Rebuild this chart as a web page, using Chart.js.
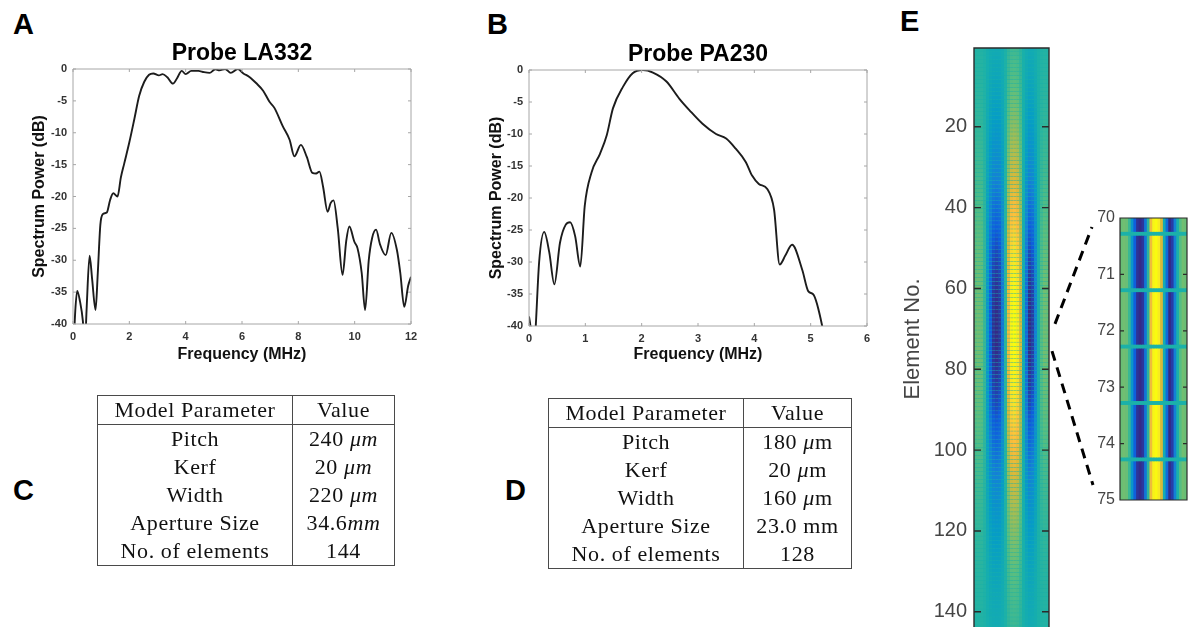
<!DOCTYPE html>
<html>
<head>
<meta charset="utf-8">
<title>Probe spectra and element maps</title>
<script src="https://cdn.jsdelivr.net/npm/chart.js@4.4.1/dist/chart.umd.min.js"></script>
<style>
  html, body { margin: 0; padding: 0; background: #fff; }
  body { position: relative; width: 1194px; height: 627px; overflow: hidden; font-family: "Liberation Sans", Arial, sans-serif; }
  canvas { position: absolute; }
  .tag { position: absolute; font: bold 29px "Liberation Sans", Arial, sans-serif; line-height: 1; color: #000; }
  table.params { position: absolute; border-collapse: collapse; font-family: "Liberation Serif", "Times New Roman", serif; font-size: 22px; letter-spacing: 0.6px; color: #111; }
  table.params td { text-align: center; padding: 0; height: 28px; line-height: 28px; white-space: nowrap; }
  table.params { border: 1px solid #4a4a4a; }
  table.params td:first-child { border-right: 1px solid #4a4a4a; }
  table.params tr.head td { border-bottom: 1px solid #4a4a4a; }
</style>
</head>
<body>

<div class="tag" style="left:13px; top:10px;">A</div>
<div class="tag" style="left:487px; top:10px;">B</div>
<div class="tag" style="left:13px; top:476px;">C</div>
<div class="tag" style="left:505px; top:476px;">D</div>
<div class="tag" style="left:900px; top:7px;">E</div>

<canvas id="spectrumLA" width="430" height="335" style="left:0; top:30px;"></canvas>
<canvas id="spectrumPA" width="430" height="335" style="left:460px; top:30px;"></canvas>
<canvas id="elementMap" width="175" height="660" style="left:890px; top:0;"></canvas>
<canvas id="elementZoom" width="114" height="330" style="left:1080px; top:190px;"></canvas>
<canvas id="links" width="1194" height="627" style="left:0; top:0; pointer-events:none;"></canvas>

<table class="params" id="tableLA" style="left:97px; top:395px; width:298px;"></table>
<table class="params" id="tablePA" style="left:548px; top:398px; width:304px;"></table>

<script>
// Probe LA332 spectrum
const freqLA332 = [0.00, 0.08, 0.15, 0.25, 0.35, 0.42, 0.48, 0.59, 0.68, 0.80, 0.88, 0.97, 1.05, 1.20, 1.32, 1.43, 1.58, 1.70, 1.82, 2.00,
  2.18, 2.35, 2.53, 2.70, 2.85, 3.05, 3.18, 3.35, 3.55, 3.70, 3.86, 4.00, 4.20, 4.45, 4.65, 4.85, 5.05, 5.20, 5.40, 5.60,
  5.85, 6.05, 6.25, 6.50, 6.75, 6.97, 7.15, 7.45, 7.69, 7.86, 8.09, 8.30, 8.50, 8.63, 8.75, 8.88, 9.04, 9.15, 9.25, 9.40,
  9.57, 9.70, 9.81, 9.99, 10.10, 10.25, 10.37, 10.50, 10.62, 10.76, 10.90, 11.10, 11.30, 11.50, 11.62, 11.76, 11.90, 12.00];
const powerLA332 = [-46, -38, -34.8, -36.5, -39.5, -44, -38, -29.3, -33, -37.8, -32, -24.5, -22.8, -22.5, -20.5, -19.5, -20, -17, -14.8, -11.5,
  -7.8, -4.2, -2, -0.9, -0.7, -1, -0.8, -1.3, -2.3, -1.4, -0.3, -0.8, -0.3, -0.3, -0.5, -0.6, -0.05, -0.2, 0, -0.6,
  0, -0.7, -1.2, -2.2, -3.4, -5.1, -6.1, -9, -11.1, -13.7, -11.9, -13.8, -16.3, -16.4, -16.1, -18.5, -22.4, -21, -20.6, -25,
  -32.3, -27, -24.7, -27.1, -28.1, -32, -37.8, -30, -26.5, -25.2, -27.5, -29.2, -25.7, -28.4, -32, -37.3, -34, -32.6];

// Probe PA230 spectrum
const freqPA230 = [0.00, 0.03, 0.07, 0.12, 0.18, 0.27, 0.36, 0.45, 0.55, 0.65, 0.73, 0.82, 0.91, 0.99, 1.11, 1.26, 1.38, 1.49, 1.67, 1.84,
  2.02, 2.20, 2.44, 2.67, 2.85, 3.08, 3.32, 3.50, 3.67, 3.85, 3.96, 4.08, 4.23, 4.35, 4.45, 4.55, 4.67, 4.85, 4.96, 5.05,
  5.20, 5.30];
const powerPA230 = [-38.5, -40.5, -47, -40, -30, -25.3, -28.5, -33.5, -27, -24.2, -23.8, -26, -30.7, -21.2, -16, -13.1, -10.2, -6, -2.6, -0.5,
  0, -0.4, -1.8, -4.5, -6.3, -8.4, -10, -10.7, -12.3, -14.4, -16.5, -17.8, -18.6, -21.8, -30.4, -29, -27.3, -31.2, -34.6, -35.1,
  -39.8, -45];

// Model parameter tables
const paramNames = ['Pitch', 'Kerf', 'Width', 'Aperture Size', 'No. of elements'];
const valuesLA332 = ['240 <i>μm</i>', '20 <i>μm</i>', '220 <i>μm</i>', '34.6<i>mm</i>', '144'];
const valuesPA230 = ['180 <i>μ</i>m', '20 <i>μ</i>m', '160 <i>μ</i>m', '23.0 mm', '128'];

// Element map: lateral profile across one element, and per-element weight
const lateralProfile = [0.20, 0.22, 0.20, 0.08, -0.22, -0.50, -0.65, -0.68, -0.64, -0.40, 0.05, 0.60, 0.95,
  1.00, 0.90, 0.50, -0.05, -0.45, -0.68, -0.62, -0.35, 0.00, 0.15, 0.22, 0.20];
const elementWeight = [
  0.10, 0.10, 0.11, 0.12, 0.13, 0.13, 0.14, 0.15, 0.16, 0.17, 0.18, 0.19,
  0.20, 0.21, 0.22, 0.24, 0.25, 0.26, 0.27, 0.29, 0.30, 0.32, 0.33, 0.35,
  0.36, 0.38, 0.39, 0.41, 0.43, 0.44, 0.46, 0.48, 0.50, 0.52, 0.54, 0.56,
  0.58, 0.60, 0.62, 0.64, 0.66, 0.68, 0.70, 0.72, 0.74, 0.76, 0.78, 0.80,
  0.81, 0.83, 0.85, 0.86, 0.88, 0.89, 0.90, 0.92, 0.93, 0.94, 0.95, 0.96,
  0.97, 0.97, 0.98, 0.98, 0.99, 0.99, 1.00, 1.00, 1.00, 1.00, 1.00, 1.00,
  1.00, 1.00, 0.99, 0.99, 0.98, 0.98, 0.97, 0.96, 0.95, 0.94, 0.93, 0.92,
  0.91, 0.89, 0.88, 0.86, 0.85, 0.83, 0.81, 0.79, 0.77, 0.75, 0.73, 0.71,
  0.69, 0.67, 0.65, 0.63, 0.61, 0.59, 0.57, 0.55, 0.53, 0.51, 0.49, 0.47,
  0.45, 0.43, 0.42, 0.40, 0.38, 0.37, 0.35, 0.34, 0.32, 0.31, 0.29, 0.28,
  0.27, 0.25, 0.24, 0.23, 0.22, 0.21, 0.20, 0.19, 0.18, 0.17, 0.16, 0.15,
  0.15, 0.14, 0.13, 0.12, 0.12, 0.11, 0.11, 0.10, 0.10, 0.09, 0.09, 0.08];
const elementNo = elementWeight.map((w, i) => i + 1);
const elementTicks = [20, 40, 60, 80, 100, 120, 140];
const zoomTicks = [70, 71, 72, 73, 74, 75];
const zoomFirst = 70, zoomLast = 75;

// parula colour map
const parula = [
  [53, 42, 135], [15, 92, 221], [20, 129, 214], [6, 157, 198], [24, 176, 171], [89, 190, 128],
  [160, 189, 85], [217, 185, 57], [253, 190, 60], [245, 224, 44], [249, 251, 14]
];
const vMin = -0.68, vMax = 1.0;

function colourFor(v) {
  let t = (v - vMin) / (vMax - vMin);
  t = Math.max(0, Math.min(1, t)) * (parula.length - 1);
  const i = Math.min(parula.length - 2, Math.floor(t));
  const f = t - i;
  const a = parula[i], b = parula[i + 1];
  return 'rgb(' + a.map((c, k) => Math.round(c + (b[k] - c) * f)).join(',') + ')';
}

Chart.defaults.font.family = "'Liberation Sans', Arial, Helvetica, sans-serif";

// MATLAB style box with inward tick marks on all four sides
const axesBox = {
  id: 'axesBox',
  afterDatasetsDraw(chart, args, opts) {
    const { ctx, chartArea: a, scales: { x, y } } = chart;
    ctx.save();
    ctx.strokeStyle = opts.color;
    ctx.lineWidth = opts.width;
    ctx.beginPath();
    ctx.rect(a.left, a.top, a.right - a.left, a.bottom - a.top);
    if (opts.xTicks) {
      x.ticks.forEach(t => {
        const px = x.getPixelForValue(t.value);
        ctx.moveTo(px, a.bottom); ctx.lineTo(px, a.bottom - opts.len);
        ctx.moveTo(px, a.top); ctx.lineTo(px, a.top + opts.len);
      });
    }
    y.ticks.forEach(t => {
      const py = y.getPixelForValue(t.value);
      ctx.moveTo(a.left, py); ctx.lineTo(a.left + opts.len, py);
      ctx.moveTo(a.right, py); ctx.lineTo(a.right - opts.len, py);
    });
    ctx.stroke();
    ctx.restore();
  }
};

// title centred over the plot area
const plotTitle = {
  id: 'plotTitle',
  afterDraw(chart, args, opts) {
    const { ctx, chartArea: a } = chart;
    ctx.save();
    ctx.font = 'bold 23px ' + Chart.defaults.font.family;
    ctx.fillStyle = '#000';
    ctx.textAlign = 'center';
    ctx.textBaseline = 'middle';
    ctx.fillText(opts.text, (a.left + a.right) / 2, a.top - opts.gap);
    ctx.restore();
  }
};

// coloured cells, one per (lateral sample, element), with kerf gaps between elements
const cellGrid = {
  id: 'cellGrid',
  beforeDatasetsDraw(chart, args, opts) {
    const { ctx, chartArea: a, scales: { x, y } } = chart;
    ctx.save();
    ctx.beginPath();
    ctx.rect(a.left, a.top, a.right - a.left, a.bottom - a.top);
    ctx.clip();
    ctx.fillStyle = colourFor(0);
    ctx.fillRect(a.left, a.top, a.right - a.left, a.bottom - a.top);
    chart.data.datasets[0].data.forEach(c => {
      const x0 = x.getPixelForValue(c.x - 0.5);
      const x1 = x.getPixelForValue(c.x + 0.5);
      const y0 = y.getPixelForValue(c.y + opts.shift - 0.5 + opts.kerf / 2);
      const y1 = y.getPixelForValue(c.y + opts.shift + 0.5 - opts.kerf / 2);
      ctx.fillStyle = colourFor(c.v);
      ctx.fillRect(x0, Math.min(y0, y1), x1 - x0 + 0.6, Math.abs(y1 - y0));
    });
    ctx.restore();
  }
};

function spectrumChart(id, freq, power, title, xMax, xStep, lay) {
  return new Chart(document.getElementById(id), {
    type: 'line',
    data: {
      datasets: [{
        data: freq.map((f, i) => ({ x: f, y: power[i] })),
        borderColor: '#1c1c1c',
        borderWidth: 1.9,
        pointRadius: 0,
        cubicInterpolationMode: 'monotone',
        fill: false,
        clip: 0
      }]
    },
    options: {
      responsive: false,
      animation: false,
      events: [],
      layout: { padding: { top: lay.top, right: lay.right } },
      plugins: {
        legend: { display: false },
        tooltip: { enabled: false },
        plotTitle: { text: title, gap: 15 },
        axesBox: { color: '#a6a6a6', width: 1, len: 3, xTicks: true }
      },
      scales: {
        x: {
          type: 'linear', min: 0, max: xMax,
          grid: { display: false, drawTicks: false },
          border: { display: false },
          ticks: { stepSize: xStep, color: '#333', font: { size: 11, weight: 'bold' }, padding: 6, maxRotation: 0 },
          title: { display: true, text: 'Frequency (MHz)', color: '#111', font: { size: 16, weight: 'bold' }, padding: { top: 0, bottom: 1 } },
          afterFit: s => { s.height = lay.xHeight; }
        },
        y: {
          type: 'linear', min: -40, max: 0,
          grid: { display: false, drawTicks: false },
          border: { display: false },
          ticks: { stepSize: 5, color: '#333', font: { size: 11, weight: 'bold' }, padding: 6 },
          title: { display: true, text: 'Spectrum Power (dB)', color: '#111', font: { size: 16, weight: 'bold' }, padding: { top: lay.yTitle, bottom: 0 } },
          afterFit: s => { s.width = lay.yWidth; }
        }
      }
    },
    plugins: [plotTitle, axesBox]
  });
}

spectrumChart('spectrumLA', freqLA332, powerLA332, 'Probe LA332', 12, 2,
  { top: 39, right: 19, xHeight: 41, yWidth: 73, yTitle: 30 });
spectrumChart('spectrumPA', freqPA230, powerPA230, 'Probe PA230', 6, 1,
  { top: 40, right: 23, xHeight: 39, yWidth: 69, yTitle: 27 });

function cellsFor(elements) {
  const cells = [];
  elements.forEach(e => {
    lateralProfile.forEach((p, c) => {
      cells.push({ x: c + 1, y: e, v: elementWeight[e - 1] * p });
    });
  });
  return cells;
}

function heatChart(id, cells, o) {
  return new Chart(document.getElementById(id), {
    type: 'scatter',
    data: { datasets: [{ data: cells, pointRadius: 0 }] },
    options: {
      responsive: false,
      animation: false,
      events: [],
      layout: { padding: { top: o.top, right: o.right, bottom: o.bottom } },
      plugins: {
        legend: { display: false },
        tooltip: { enabled: false },
        cellGrid: { kerf: o.kerf, shift: -0.22 },
        axesBox: { color: '#2b2b2b', width: o.lineWidth, len: o.tickLen, xTicks: false }
      },
      scales: {
        x: { type: 'linear', display: false, min: 0.5, max: lateralProfile.length + 0.5 },
        y: {
          type: 'linear', reverse: true, min: o.min, max: o.max,
          afterBuildTicks: s => { s.ticks = o.ticks.map(v => ({ value: v })); },
          grid: { display: false, drawTicks: false },
          border: { display: false },
          ticks: { color: '#454545', font: { size: o.fontSize }, padding: o.pad },
          title: { display: !!o.title, text: o.title || '', color: '#454545', font: { size: 22 }, padding: { top: 10, bottom: 0 } },
          afterFit: s => { s.width = o.width; }
        }
      }
    },
    plugins: [cellGrid, axesBox]
  });
}

const mainMap = heatChart('elementMap', cellsFor(elementNo), {
  top: 48, right: 16, bottom: 30, width: 84, min: 0.5, max: elementNo.length + 0.5,
  ticks: elementTicks, kerf: 0.1, fontSize: 20, pad: 7, title: 'Element No.', lineWidth: 1.4, tickLen: 7
});
const zoomMap = heatChart('elementZoom', cellsFor(elementNo.filter(e => e >= zoomFirst && e <= zoomLast + 1)), {
  top: 28, right: 7, bottom: 20, width: 40, min: zoomFirst, max: zoomLast,
  ticks: zoomTicks, kerf: 0.07, fontSize: 16, pad: 5, title: '', lineWidth: 1.2, tickLen: 4
});

// dashed connectors from the zoomed element range to the inset
(function drawLinks() {
  const ctx = document.getElementById('links').getContext('2d');
  const mainLeft = 890, mainTop = 0, zoomLeft = 1080, zoomTop = 190;
  const mRight = mainLeft + mainMap.chartArea.right;
  const zLeft = zoomLeft + zoomMap.chartArea.left;
  const m70 = mainTop + mainMap.scales.y.getPixelForValue(zoomFirst);
  const m75 = mainTop + mainMap.scales.y.getPixelForValue(zoomLast);
  const z70 = zoomTop + zoomMap.scales.y.getPixelForValue(zoomFirst);
  const z75 = zoomTop + zoomMap.scales.y.getPixelForValue(zoomLast);
  ctx.strokeStyle = '#000';
  ctx.lineWidth = 3;
  ctx.setLineDash([10, 7]);
  ctx.beginPath();
  ctx.moveTo(mRight + 6, m70 - 5);
  ctx.lineTo(zLeft - 28, z70 + 9);
  ctx.moveTo(mRight + 3, m75 + 2);
  ctx.lineTo(zLeft - 27, z75 - 15);
  ctx.stroke();
})();

function fillTable(id, values) {
  const rows = ['<tr class="head"><td>Model Parameter</td><td>Value</td></tr>'];
  paramNames.forEach((n, i) => rows.push('<tr><td>' + n + '</td><td>' + values[i] + '</td></tr>'));
  document.getElementById(id).innerHTML = rows.join('');
}
fillTable('tableLA', valuesLA332);
fillTable('tablePA', valuesPA230);
document.querySelector('#tableLA td').style.width = '194px';
document.querySelector('#tablePA td').style.width = '194px';
</script>
</body>
</html>
